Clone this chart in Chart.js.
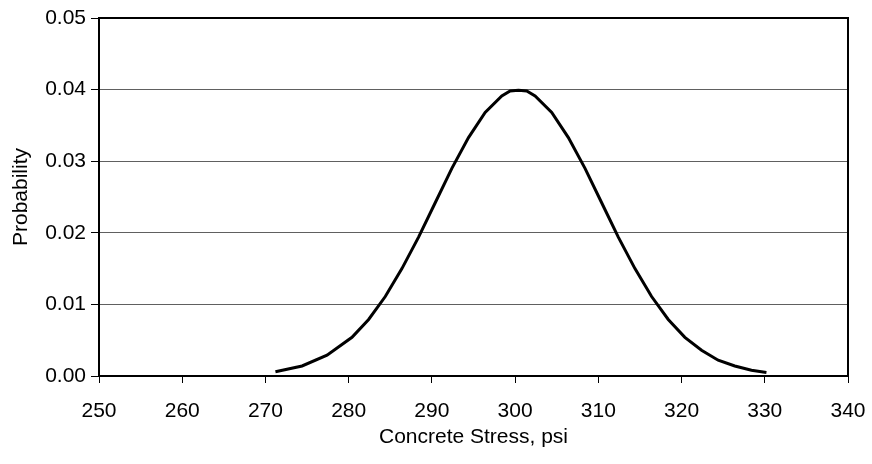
<!DOCTYPE html>
<html>
<head>
<meta charset="utf-8">
<script src="https://cdn.jsdelivr.net/npm/chart.js@4"></script>
<style>
  html, body { margin: 0; padding: 0; background: #fff; }
  #wrap { width: 872px; height: 464px; }
</style>
</head>
<body>
<div id="wrap"><canvas id="probChart" width="872" height="464"></canvas></div>
<script>
// stress values (psi)
const stress = [271.2, 274.4, 277.4, 280.4, 282.4, 284.4, 286.4, 288.4, 290.4, 292.4, 294.4, 296.4,
                298.4, 299.4, 300.4, 301.4, 302.4, 304.4, 306.4, 308.4, 310.4, 312.4, 314.4, 316.4,
                318.4, 320.4, 322.4, 324.4, 326.4, 328.4, 330.2];
// probability at each stress value
const probability = [0.0006, 0.0014, 0.0029, 0.0054, 0.0079, 0.0111, 0.0150, 0.0194, 0.0242, 0.0290,
                     0.0333, 0.0368, 0.0391, 0.0398, 0.0399, 0.0398, 0.0391, 0.0368, 0.0333, 0.0290,
                     0.0242, 0.0194, 0.0150, 0.0111, 0.0079, 0.0054, 0.0036, 0.0022, 0.0014, 0.0008, 0.0005];

const xTitle = "Concrete Stress, psi";
const yTitle = "Probability";

const points = stress.map((s, i) => ({ x: s, y: probability[i] }));

const fontFamily = "'Liberation Sans', Arial, sans-serif";
const fontSize = 21;

// box around the plot area (top and right edges)
const frame = {
    id: "frame",
    afterDraw(chart) {
        const a = chart.chartArea;
        const ctx = chart.ctx;
        ctx.save();
        ctx.strokeStyle = "#000";
        ctx.lineWidth = 2;
        ctx.strokeRect(a.left, a.top, a.right - a.left, a.bottom - a.top);
        ctx.restore();
    }
};

const ctx = document.getElementById("probChart").getContext("2d");
window.probChartInstance = new Chart(ctx, {
    type: "line",
    data: {
        datasets: [{
            data: points,
            borderColor: "#000",
            borderWidth: 3,
            pointRadius: 0,
            tension: 0,
            fill: false
        }]
    },
    options: {
        responsive: false,
        animation: false,
        layout: { padding: { top: 18, right: 24, left: 0, bottom: 0 } },
        plugins: { legend: { display: false }, tooltip: { enabled: false } },
        scales: {
            x: {
                type: "linear",
                min: 250,
                max: 340,
                afterFit: (s) => { s.height = 88; s.paddingRight = 0; s.paddingLeft = 0; },
                ticks: { stepSize: 10, color: "#000", padding: 16, font: { family: fontFamily, size: fontSize } },
                grid: { drawOnChartArea: false, drawTicks: true, tickLength: 7, tickColor: "#000", tickWidth: 1 },
                border: { color: "#000", width: 2 },
                title: { display: true, text: xTitle, color: "#000", font: { family: fontFamily, size: fontSize }, padding: { top: 0, bottom: 14 } }
            },
            y: {
                min: 0,
                max: 0.05,
                afterFit: (s) => { s.width = 99; },
                ticks: {
                    stepSize: 0.01,
                    color: "#000",
                    padding: 5,
                    font: { family: fontFamily, size: fontSize },
                    callback: (v) => v.toFixed(2)
                },
                grid: { color: "#606060", lineWidth: 1, tickLength: 8, tickColor: "#000" },
                border: { color: "#000", width: 2 },
                title: { display: true, text: yTitle, color: "#000", font: { family: fontFamily, size: fontSize }, padding: { top: 9, bottom: 0 } }
            }
        }
    },
    plugins: [frame]
});
</script>
</body>
</html>
